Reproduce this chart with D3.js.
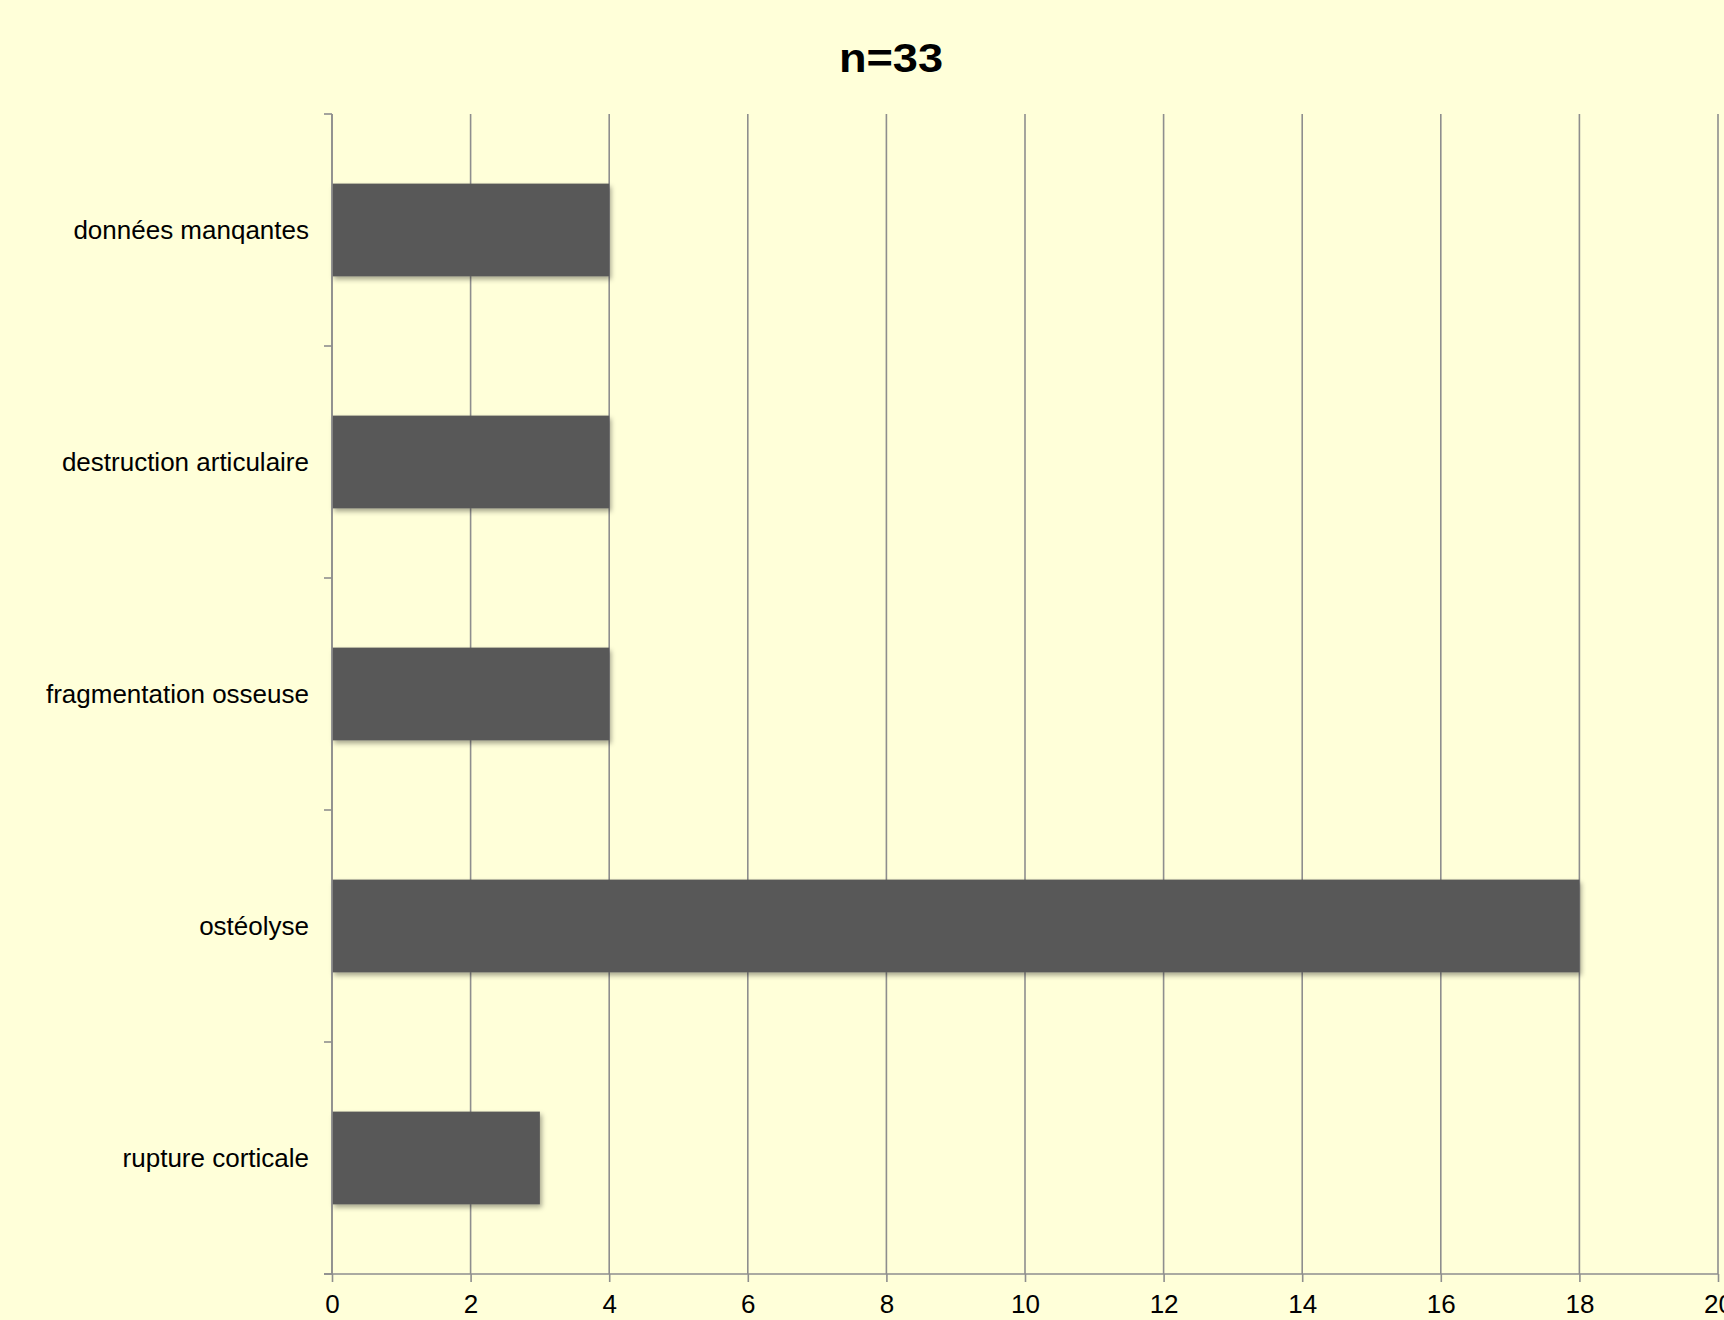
<!DOCTYPE html>
<meta charset="utf-8">
<style>
  body { margin: 0; background: #ffffd9; }
  svg { display: block; }
  text { font-family: "Liberation Sans", Arial, sans-serif; fill: #000; }
</style>
<script src="https://d3js.org/d3.v7.min.js"></script>
<div id="chart"></div>
<script>
  // data, top to bottom
  const categories = ["données manqantes", "destruction articulaire", "fragmentation osseuse", "ostéolyse", "rupture corticale"];
  const counts = [4, 4, 4, 18, 3];
  const xTicks = [0, 2, 4, 6, 8, 10, 12, 14, 16, 18, 20];
  const title = "n=33";

  const W = 1724, H = 1320;
  const margin = {top: 114, right: 6, bottom: 46, left: 332};
  const width = W - margin.left - margin.right,
        height = H - margin.top - margin.bottom;

  const svg = d3.select("#chart").append("svg")
      .attr("width", W)
      .attr("height", H);

  // soft shadow under the bars
  const defs = svg.append("defs");
  defs.append("filter")
      .attr("id", "shadow")
      .attr("x", "-5%").attr("y", "-20%")
      .attr("width", "115%").attr("height", "160%")
    .append("feDropShadow")
      .attr("dx", 2).attr("dy", 3)
      .attr("stdDeviation", 2.5)
      .attr("flood-color", "#000")
      .attr("flood-opacity", 0.35);

  // title, a little wider than Arial like the original
  svg.append("text")
      .attr("transform", "translate(891,72) scale(1.13,1)")
      .attr("text-anchor", "middle")
      .style("font-size", "40px")
      .style("font-weight", "bold")
      .text(title);

  const g = svg.append("g")
      .attr("transform", "translate(" + margin.left + "," + margin.top + ")");

  const x = d3.scaleLinear()
    .domain([0, 20])
    .range([0, width]);

  const y = d3.scaleBand()
    .domain(categories)
    .range([0, height])
    .paddingInner(0.6)
    .paddingOuter(0.3);

  // vertical grid
  g.append("g")
    .selectAll("line")
    .data(xTicks)
    .join("line")
      .attr("x1", d => x(d)).attr("x2", d => x(d))
      .attr("y1", 0).attr("y2", height)
      .attr("stroke", "#8e8e8e")
      .attr("stroke-width", 1.6);

  // bars
  g.append("g")
    .selectAll("rect")
    .data(categories)
    .join("rect")
      .attr("x", x(0))
      .attr("y", d => y(d))
      .attr("width", (d, i) => x(counts[i]) - x(0))
      .attr("height", y.bandwidth())
      .attr("fill", "#595959")
      .attr("filter", "url(#shadow)");

  // x axis
  const xAxis = g.append("g")
      .attr("transform", "translate(0," + height + ")")
      .call(d3.axisBottom(x).tickValues(xTicks).tickSize(8).tickPadding(13).tickFormat(d3.format("d")));
  xAxis.select(".domain").attr("stroke", "#8e8e8e").attr("stroke-width", 1.6)
      .attr("d", "M-8,0H" + width);
  xAxis.selectAll(".tick line").attr("stroke", "#8e8e8e").attr("stroke-width", 1.6);
  xAxis.selectAll("text").style("font-size", "26px").attr("fill", "#000");

  // y axis: ticks sit on band boundaries, labels centred in bands
  const bounds = d3.range(categories.length + 1).map(i => i * (height / categories.length));
  const yAxis = g.append("g");
  yAxis.append("line")
      .attr("x1", 0).attr("x2", 0)
      .attr("y1", 0).attr("y2", height)
      .attr("stroke", "#8e8e8e")
      .attr("stroke-width", 1.6);
  yAxis.selectAll(".ytick")
    .data(bounds)
    .join("line")
      .attr("class", "ytick")
      .attr("x1", -8).attr("x2", 0)
      .attr("y1", d => d).attr("y2", d => d)
      .attr("stroke", "#8e8e8e")
      .attr("stroke-width", 1.6);
  yAxis.selectAll(".ylabel")
    .data(categories)
    .join("text")
      .attr("class", "ylabel")
      .attr("x", -23)
      .attr("y", d => y(d) + y.bandwidth() / 2)
      .attr("dy", "0.35em")
      .attr("text-anchor", "end")
      .style("font-size", "26px")
      .text(d => d);
</script>
